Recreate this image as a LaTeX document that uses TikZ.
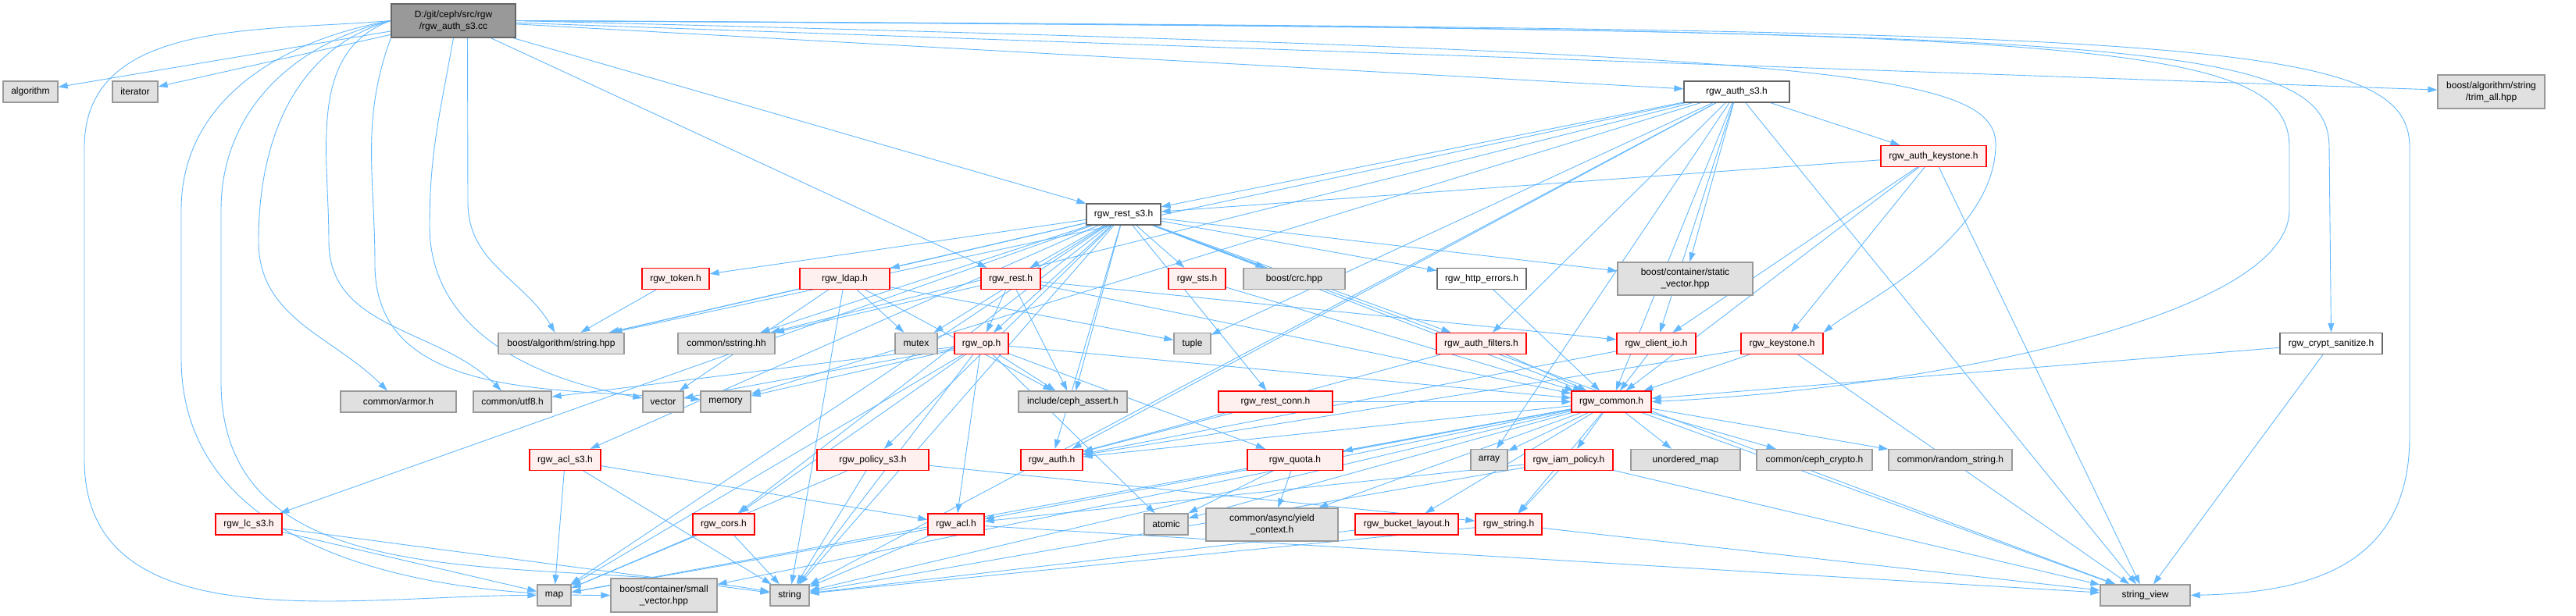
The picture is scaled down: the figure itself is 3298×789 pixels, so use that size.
\documentclass[tikz,border=0pt]{standalone}
\usepackage{fontspec}
\setmainfont{Liberation Sans}
\usetikzlibrary{arrows.meta, positioning, backgrounds}
\definecolor{edgeblue}{HTML}{63B8FF}
\definecolor{sysfill}{HTML}{E0E0E0}
\definecolor{sysline}{HTML}{999999}
\definecolor{redline}{HTML}{FF0000}
\definecolor{redfill}{HTML}{FFF0F0}
\definecolor{plainline}{HTML}{666666}
\definecolor{rootfill}{HTML}{999999}

\tikzset{
  hdr/.style={rectangle, inner sep=0pt, minimum height=27pt, line width=1.3pt, align=center,
    font=\fontsize{12}{15}\selectfont},
  sysbox/.style={hdr, draw=sysline, fill=sysfill},
  truncbox/.style={hdr, draw=redline, fill=redfill},
  plainbox/.style={hdr, draw=plainline, fill=white},
  rootbox/.style={hdr, draw=plainline, fill=rootfill, minimum height=43pt},
  dep/.style={draw=edgeblue, line width=0.9pt, -{Triangle[length=12pt,width=8pt]}},
}

\begin{document}
\begin{tikzpicture}[x=1pt, y=1pt]
  \useasboundingbox (0,0) rectangle (3298,789);

  % top
  \node[rootbox, minimum width=159pt] (root) at (580.5,762.5) {D:/git/ceph/src/rgw\\/rgw\_auth\_s3.cc};

  \node[sysbox, minimum width=70pt] (algorithm) at (39,671.5) {algorithm};
  \node[sysbox, minimum width=58pt] (iterator) at (173,671.5) {iterator};
  \node[plainbox, minimum width=135pt] (authS3) at (2223.5,671.5) {rgw\_auth\_s3.h};
  \node[sysbox, minimum width=137pt, minimum height=43pt] (trimall) at (3189.5,671.5) {boost/algorithm/string\\/trim\_all.hpp};

  \node[truncbox, minimum width=135pt] (authKs) at (2475.5,589) {rgw\_auth\_keystone.h};
  \node[plainbox, minimum width=95pt] (restS3) at (1438.5,514.5) {rgw\_rest\_s3.h};

  \node[truncbox, minimum width=86pt] (token) at (865,432) {rgw\_token.h};
  \node[truncbox, minimum width=115pt] (ldap) at (1081.5,432) {rgw\_ldap.h};
  \node[truncbox, minimum width=76pt] (rest) at (1294,432) {rgw\_rest.h};
  \node[truncbox, minimum width=73pt] (sts) at (1532.5,432) {rgw\_sts.h};
  \node[sysbox, minimum width=130pt] (crc) at (1657,432) {boost/crc.hpp};
  \node[plainbox, minimum width=114pt] (httperr) at (1897,432) {rgw\_http\_errors.h};
  \node[sysbox, minimum width=173pt, minimum height=42pt] (staticvec) at (2157.5,432) {boost/container/static\\\_vector.hpp};

  \node[sysbox, minimum width=161pt] (bstring) at (718.5,349) {boost/algorithm/string.hpp};
  \node[sysbox, minimum width=124pt] (sstring) at (930,349) {common/sstring.hh};
  \node[sysbox, minimum width=54pt] (mutex) at (1173,349) {mutex};
  \node[truncbox, minimum width=69pt] (op) at (1256.5,349) {rgw\_op.h};
  \node[sysbox, minimum width=47pt] (tuple) at (1526.5,349) {tuple};
  \node[truncbox, minimum width=115pt] (authfilt) at (1896.5,349) {rgw\_auth\_filters.h};
  \node[truncbox, minimum width=101pt] (clientio) at (2120.5,349) {rgw\_client\_io.h};
  \node[truncbox, minimum width=105pt] (keystone) at (2281.5,349) {rgw\_keystone.h};
  \node[plainbox, minimum width=131pt] (cryptsan) at (2984.5,349) {rgw\_crypt\_sanitize.h};

  \node[sysbox, minimum width=148pt] (armor) at (510,274.5) {common/armor.h};
  \node[sysbox, minimum width=100pt] (utf8) at (656,274.5) {common/utf8.h};
  \node[sysbox, minimum width=52pt] (vector) at (849,274.5) {vector};
  \node[sysbox, minimum width=64pt] (memory) at (929,274.5) {memory};
  \node[sysbox, minimum width=139pt] (assert) at (1373.5,274.5) {include/ceph\_assert.h};
  \node[truncbox, minimum width=146pt] (restconn) at (1633,274.5) {rgw\_rest\_conn.h};
  \node[truncbox, minimum width=102pt] (common) at (2063,274.5) {rgw\_common.h};

  \node[truncbox, minimum width=91pt] (aclS3) at (723.5,200) {rgw\_acl\_s3.h};
  \node[truncbox, minimum width=143pt] (policyS3) at (1117.5,200) {rgw\_policy\_s3.h};
  \node[truncbox, minimum width=79pt] (auth) at (1346.5,200) {rgw\_auth.h};
  \node[truncbox, minimum width=122pt] (quota) at (1658,200) {rgw\_quota.h};
  \node[sysbox, minimum width=47pt] (array) at (1906.5,200) {array};
  \node[truncbox, minimum width=113pt] (iam) at (2008.5,200) {rgw\_iam\_policy.h};
  \node[sysbox, minimum width=140pt] (umap) at (2158,200) {unordered\_map};
  \node[sysbox, minimum width=148pt] (crypto) at (2323,200) {common/ceph\_crypto.h};
  \node[sysbox, minimum width=158pt] (randstr) at (2497,200) {common/random\_string.h};

  \node[truncbox, minimum width=85pt] (lcS3) at (318.5,117.5) {rgw\_lc\_s3.h};
  \node[truncbox, minimum width=79pt] (cors) at (926.5,117.5) {rgw\_cors.h};
  \node[truncbox, minimum width=72pt] (acl) at (1224,117.5) {rgw\_acl.h};
  \node[sysbox, minimum width=56pt] (atomic) at (1493,117.5) {atomic};
  \node[sysbox, minimum width=169pt, minimum height=42pt] (yield) at (1628.5,117) {common/async/yield\\\_context.h};
  \node[truncbox, minimum width=132pt] (bucketlayout) at (1801,117.5) {rgw\_bucket\_layout.h};
  \node[truncbox, minimum width=85pt] (rgwstring) at (1931.5,117.5) {rgw\_string.h};

  \node[sysbox, minimum width=43pt] (map) at (709.5,26.5) {map};
  \node[sysbox, minimum width=136pt, minimum height=43pt] (smallvec) at (850,26.5) {boost/container/small\\\_vector.hpp};
  \node[sysbox, minimum width=50pt] (string) at (1011,26.5) {string};
  \node[sysbox, minimum width=115pt] (strview) at (2746.5,26.5) {string\_view};

  \begin{scope}[on background layer]
    % includes of the .cc file
    \foreach \t in {algorithm,iterator,rest,restS3,authS3,trimall}
      \draw[dep] (root) -- (\t);
    \draw[dep] (root.west) to[out=185,in=90] (108,600) -- (108,200) to[out=-90,in=180] (map);
    \draw[dep] (root.west) to[out=190,in=90] (232,520) -- (232,330) to[out=-90,in=180] (smallvec);
    \draw[dep] (root.west) to[out=193,in=90] (283,520) -- (283,300) to[out=-90,in=170] (string);
    \draw[dep] (root.west) to[out=196,in=90] (331,480) to[out=-90,in=135] (armor);
    \draw[dep] (root.west) to[out=200,in=90] (421,480) to[out=-90,in=135] (utf8);
    \draw[dep] (root.south west) to[out=-110,in=90] (480,450) to[out=-90,in=175] (memory);
    \draw[dep] (root.south) to[out=-100,in=90] (550,500) to[out=-90,in=170] (vector);
    \draw[dep] ([xshift=18pt]root.south) -- (599,530) to[out=-90,in=120] (bstring);
    \draw[dep] (root.east) .. controls (2800,752) and (3085,745) .. (3085,600) -- (3085,230)
      .. controls (3085,60) and (2950,30) .. (strview.east);
    \draw[dep] (root.east) .. controls (2700,750) and (2982,745) .. (2982,600) -- (cryptsan.north);
    \draw[dep] (root.east) .. controls (2650,752) and (2931,745) .. (2931,600) -- (2931,520)
      .. controls (2931,380) and (2450,290) .. (common.east);
    \draw[dep] (root.east) .. controls (2350,720) and (2560,700) .. (2555,600)
      .. controls (2550,480) and (2380,400) .. (keystone.north east);

    % headers
    \foreach \t in {authKs,restS3,bstring,sstring,staticvec,strview,array,tuple,authfilt,auth,clientio,common,string,memory}
      \draw[dep] (authS3) -- (\t);
    \foreach \t in {restS3,keystone,common,strview,clientio}
      \draw[dep] (authKs) -- (\t);
    \foreach \t in {lcS3,aclS3,token,ldap,rest,op,sts,crc,httperr,staticvec,mutex,sstring,assert,restconn,authfilt,policyS3,auth,cors,strview,map,string,bstring,common}
      \draw[dep] (restS3) -- (\t);
    \draw[dep] (token) -- (bstring);
    \foreach \t in {bstring,mutex,tuple,assert,vector,string}
      \draw[dep] (ldap) -- (\t);
    \foreach \t in {op,sstring,assert,clientio,common}
      \draw[dep] (rest) -- (\t);
    \draw[dep] (sts) -- (common);
    \draw[dep] (httperr) -- (common);
    \foreach \t in {common,auth}
      \draw[dep] (authfilt) -- (\t);
    \foreach \t in {common,auth}
      \draw[dep] (clientio) -- (\t);
    \foreach \t in {common,strview,auth}
      \draw[dep] (keystone) -- (\t);
    \foreach \t in {common,strview}
      \draw[dep] (cryptsan) -- (\t);
    \foreach \t in {utf8,vector,memory,map,string,assert,common,acl,cors,quota,atomic}
      \draw[dep] (op) -- (\t);
    \foreach \t in {auth,common}
      \draw[dep] (restconn) -- (\t);
    \foreach \t in {array,iam,umap,crypto,randstr,atomic,yield,bucketlayout,rgwstring,auth,quota,acl,strview,string,map,smallvec}
      \draw[dep] (common) -- (\t);
    \foreach \t in {map,string,acl}
      \draw[dep] (aclS3) -- (\t);
    \foreach \t in {map,string,rgwstring}
      \draw[dep] (policyS3) -- (\t);
    \foreach \t in {yield,atomic}
      \draw[dep] (quota) -- (\t);
    \foreach \t in {acl,rgwstring,strview,string}
      \draw[dep] (iam) -- (\t);
    \foreach \t in {map,string,strview}
      \draw[dep] (acl) -- (\t);
    \foreach \t in {map,string}
      \draw[dep] (cors) -- (\t);
    \foreach \t in {map,string}
      \draw[dep] (lcS3) -- (\t);
    \draw[dep] (bucketlayout) -- (string);
    \foreach \t in {string,strview}
      \draw[dep] (rgwstring) -- (\t);
  \end{scope}
\end{tikzpicture}
\end{document}
